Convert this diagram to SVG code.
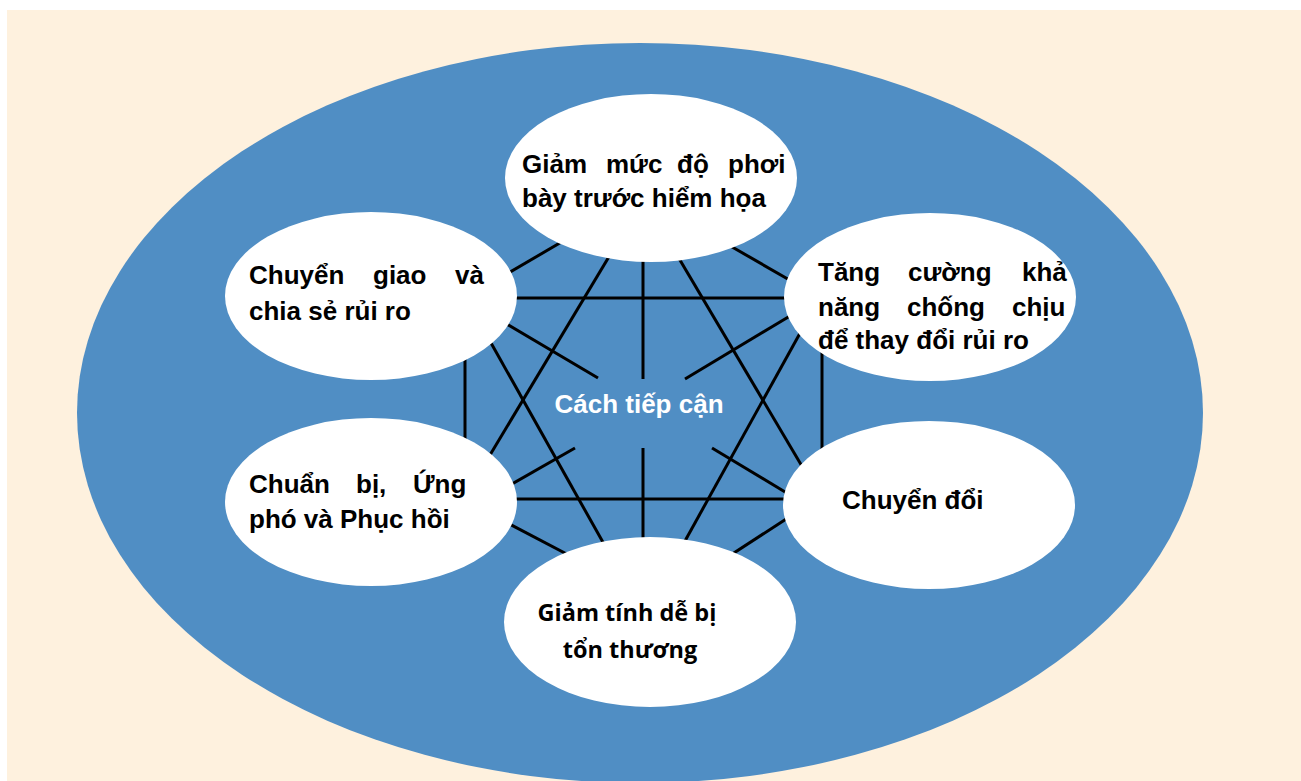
<svg xmlns="http://www.w3.org/2000/svg" width="1301" height="781" viewBox="0 0 1301 781">
  <style>
    .bg { fill: #FEF1DE; }
    .ring { fill: #508EC4; }
    .node { fill: #FFFFFF; }
    .edge { stroke: #000000; stroke-width: 3; fill: none; }
    .lbl { font-family: "Liberation Sans", Arial, sans-serif; font-weight: bold; font-size: 26px; fill: #000000; }
    .lbl2 { font-family: "Open Sans", "Noto Sans", sans-serif; font-weight: bold; font-size: 23.5px; fill: #000000; }
    .hub { font-family: "Liberation Sans", Arial, sans-serif; font-weight: bold; font-size: 26px; fill: #FFFFFF; }
  </style>

  <!-- page and outer field -->
  <rect class="bg" x="7" y="10" width="1294" height="771"/>
  <ellipse class="ring" cx="640" cy="413" rx="563" ry="370"/>

  <!-- connectors between the six approaches -->
  <g id="connectors" class="edge">
    <line x1="500" y1="278" x2="570" y2="237"/>
    <line x1="720" y1="240" x2="800" y2="286"/>
    <line x1="500" y1="298" x2="800" y2="298"/>
    <line x1="643" y1="250" x2="643" y2="379"/>
    <line x1="643" y1="448" x2="643" y2="550"/>
    <line x1="495" y1="317" x2="598" y2="378"/>
    <line x1="800" y1="310" x2="685" y2="379"/>
    <line x1="613" y1="250" x2="484" y2="465"/>
    <line x1="674" y1="250" x2="806" y2="473"/>
    <line x1="486" y1="334" x2="609" y2="553"/>
    <line x1="804" y1="326" x2="680" y2="550"/>
    <line x1="465" y1="355" x2="465" y2="450"/>
    <line x1="822" y1="345" x2="822" y2="455"/>
    <line x1="505" y1="488" x2="575" y2="448"/>
    <line x1="712" y1="448" x2="795" y2="498"/>
    <line x1="500" y1="499" x2="800" y2="499"/>
    <line x1="500" y1="519" x2="580" y2="561"/>
    <line x1="800" y1="510" x2="720" y2="562"/>
  </g>

  <g id="node-exposure">
    <ellipse class="node" cx="651" cy="178" rx="146" ry="84"/>
    <text class="lbl">
      <tspan x="522" y="173">Giảm</tspan><tspan x="606" y="173">mức</tspan><tspan x="677" y="173">độ</tspan><tspan x="728" y="173">phơi</tspan>
      <tspan x="522" y="207">bày trước hiểm họa</tspan>
    </text>
  </g>

  <g id="node-resilience">
    <ellipse class="node" cx="930" cy="297" rx="146" ry="84"/>
    <text class="lbl">
      <tspan x="818" y="281">Tăng</tspan><tspan x="908" y="281">cường</tspan><tspan x="1022" y="281">khả</tspan>
      <tspan x="818" y="316">năng</tspan><tspan x="907" y="316">chống</tspan><tspan x="1012" y="316">chịu</tspan>
      <tspan x="818" y="349">để thay đổi rủi ro</tspan>
    </text>
  </g>

  <g id="node-transfer">
    <ellipse class="node" cx="371" cy="296" rx="146" ry="84"/>
    <text class="lbl">
      <tspan x="249" y="284">Chuyển</tspan><tspan x="373" y="284">giao</tspan><tspan x="455" y="284">và</tspan>
      <tspan x="249" y="320">chia sẻ rủi ro</tspan>
    </text>
  </g>

  <g id="node-preparedness">
    <ellipse class="node" cx="371" cy="502" rx="146" ry="84"/>
    <text class="lbl">
      <tspan x="249" y="493">Chuẩn</tspan><tspan x="356" y="493">bị,</tspan><tspan x="413" y="493">Ứng</tspan>
      <tspan x="249" y="528">phó và Phục hồi</tspan>
    </text>
  </g>

  <g id="node-transformation">
    <ellipse class="node" cx="929" cy="505" rx="146" ry="84"/>
    <text class="lbl" x="842" y="509">Chuyển đổi</text>
  </g>

  <g id="node-vulnerability">
    <ellipse class="node" cx="650" cy="622" rx="146" ry="85"/>
    <text class="lbl2" text-anchor="middle">
      <tspan x="630" y="621">Giảm tính dễ bị</tspan>
      <tspan x="630" y="658">tổn thương</tspan>
    </text>
  </g>

  <g id="hub">
    <text class="hub" x="639" y="413" text-anchor="middle">Cách tiếp cận</text>
  </g>
</svg>
